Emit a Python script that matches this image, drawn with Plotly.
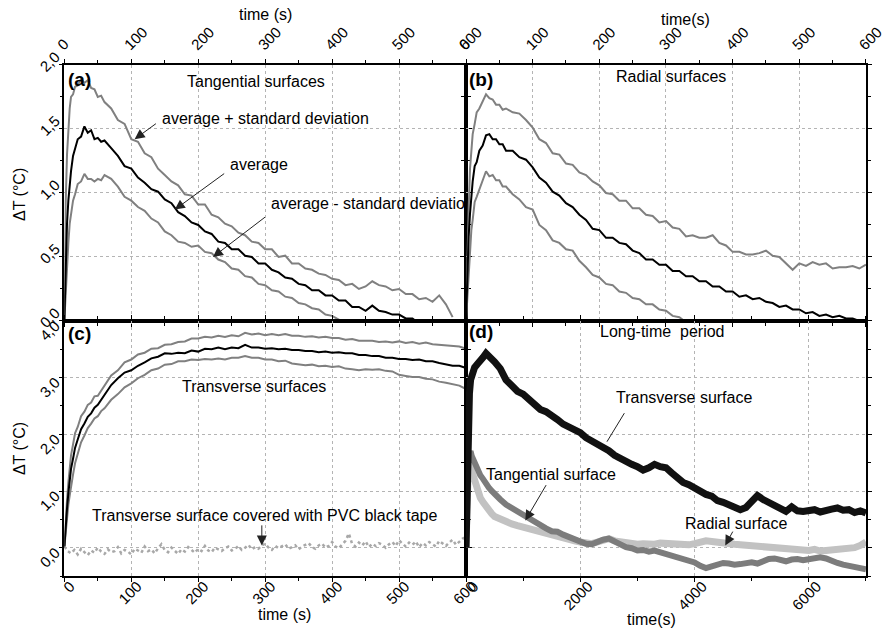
import plotly.graph_objects as go

# ---------------- data ----------------
T = [0, 2, 4, 6, 8, 10, 13, 16, 20, 25, 30, 35, 40, 45, 50, 55, 60,
     70, 80, 90, 100, 110, 120, 130, 140, 150, 160, 170, 180, 190, 200,
     210, 220, 230, 240, 250, 260, 270, 280, 290, 300, 310, 320, 330, 340,
     350, 360, 370, 380, 390, 400, 410, 420, 430, 440, 450, 460, 470, 480,
     490, 500, 510, 520, 530, 540, 550, 560, 570, 580, 590, 600]

# (a) tangential surfaces
a_up = [0.00, 0.92, 1.30, 1.55, 1.66, 1.75, 1.77, 1.83, 1.84, 1.89, 1.86, 1.88, 1.82, 1.81, 1.75, 1.76, 1.71,
        1.66, 1.57, 1.54, 1.42, 1.40, 1.31, 1.28, 1.19, 1.14, 1.09,
        1.06, 0.99, 0.98, 0.91, 0.91, 0.83, 0.81, 0.76, 0.74, 0.69,
        0.67, 0.62, 0.61, 0.56, 0.56, 0.50, 0.51, 0.45, 0.45, 0.41,
        0.40, 0.37, 0.36, 0.33, 0.32, 0.28, 0.29, 0.25, 0.27, 0.31,
        0.28, 0.27, 0.24, 0.25, 0.21, 0.21, 0.17, 0.18, 0.15, 0.20,
        0.13, 0.03]
a_avg = [0.00, 0.45, 0.76, 0.94, 1.08, 1.17, 1.29, 1.35, 1.42, 1.44, 1.52, 1.47, 1.49, 1.42, 1.43, 1.40, 1.41,
         1.35, 1.29, 1.21, 1.19, 1.12, 1.08, 1.03, 1.01, 0.95, 0.92,
         0.85, 0.82, 0.77, 0.75, 0.70, 0.68, 0.62, 0.61, 0.56, 0.56,
         0.51, 0.50, 0.45, 0.45, 0.40, 0.38, 0.34, 0.33, 0.29, 0.28,
         0.24, 0.24, 0.20, 0.20, 0.16, 0.16, 0.11, 0.11, 0.08, 0.12,
         0.08, 0.07, 0.05, 0.05, 0.02, 0.02, -0.02]
a_lo = [0.00, 0.25, 0.46, 0.61, 0.76, 0.83, 0.94, 0.99, 1.07, 1.09, 1.15, 1.11, 1.11, 1.09, 1.11, 1.10, 1.14,
        1.11, 1.05, 0.97, 0.94, 0.89, 0.86, 0.80, 0.77, 0.70, 0.67,
        0.62, 0.61, 0.58, 0.59, 0.54, 0.53, 0.48, 0.46, 0.41, 0.40,
        0.35, 0.34, 0.29, 0.28, 0.24, 0.23, 0.19, 0.18, 0.14, 0.13,
        0.10, 0.09, 0.05, 0.04, 0.01, -0.02]

# (b) radial surfaces
b_up = [0.00, 0.52, 0.88, 1.19, 1.34, 1.46, 1.54, 1.63, 1.66, 1.72, 1.77, 1.74, 1.73, 1.69, 1.69, 1.65, 1.66,
        1.63, 1.62, 1.57, 1.51, 1.42, 1.39, 1.31, 1.30, 1.23, 1.22,
        1.16, 1.14, 1.09, 1.06, 1.00, 0.99, 0.94, 0.94, 0.88, 0.88,
        0.83, 0.82, 0.77, 0.78, 0.73, 0.72, 0.66, 0.67, 0.65, 0.65,
        0.67, 0.61, 0.59, 0.54, 0.54, 0.52, 0.52, 0.53, 0.55, 0.51,
        0.50, 0.45, 0.40, 0.45, 0.43, 0.46, 0.44, 0.45, 0.41, 0.42,
        0.42, 0.43, 0.41, 0.44]
b_avg = [0.00, 0.40, 0.66, 0.84, 1.01, 1.09, 1.21, 1.24, 1.33, 1.37, 1.45, 1.46, 1.42, 1.42, 1.38, 1.38, 1.33,
         1.33, 1.28, 1.26, 1.20, 1.12, 1.08, 1.01, 0.98, 0.92, 0.89,
         0.83, 0.79, 0.72, 0.71, 0.65, 0.65, 0.61, 0.60, 0.55, 0.53,
         0.48, 0.48, 0.44, 0.44, 0.39, 0.39, 0.35, 0.35, 0.31, 0.31,
         0.27, 0.27, 0.23, 0.23, 0.19, 0.20, 0.17, 0.18, 0.15, 0.14,
         0.11, 0.12, 0.09, 0.09, 0.06, 0.07, 0.04, 0.05, 0.03, 0.04,
         0.02, 0.02, 0.00, 0.01]
b_lo = [0.00, 0.20, 0.41, 0.54, 0.71, 0.79, 0.93, 0.97, 1.03, 1.09, 1.17, 1.13, 1.14, 1.10, 1.10, 1.05, 1.05,
        0.99, 0.95, 0.89, 0.87, 0.75, 0.71, 0.63, 0.61, 0.56, 0.55,
        0.47, 0.42, 0.36, 0.34, 0.29, 0.28, 0.23, 0.22, 0.18, 0.17,
        0.13, 0.13, 0.09, 0.08, 0.04, 0.03, -0.01, -0.03]

# (c) transverse surfaces
c_up = [0.00, 0.52, 0.84, 1.15, 1.38, 1.63, 1.82, 2.02, 2.13, 2.32, 2.40, 2.52, 2.56, 2.67, 2.68, 2.77, 2.84,
        3.04, 3.13, 3.27, 3.32, 3.41, 3.44, 3.51, 3.52, 3.58, 3.59,
        3.63, 3.64, 3.69, 3.69, 3.72, 3.71, 3.74, 3.72, 3.75, 3.73,
        3.79, 3.76, 3.78, 3.75, 3.77, 3.75, 3.77, 3.74, 3.74, 3.72,
        3.73, 3.71, 3.72, 3.70, 3.70, 3.67, 3.68, 3.65, 3.65, 3.65,
        3.63, 3.64, 3.62, 3.64, 3.61, 3.63, 3.60, 3.62, 3.59, 3.58,
        3.57, 3.55, 3.55, 3.51]
c_avg = [0.00, 0.42, 0.69, 0.96, 1.17, 1.39, 1.57, 1.76, 1.91, 2.09, 2.19, 2.31, 2.37, 2.47, 2.52, 2.61, 2.69,
         2.87, 2.99, 3.09, 3.13, 3.21, 3.27, 3.34, 3.37, 3.43, 3.42,
         3.44, 3.43, 3.48, 3.46, 3.51, 3.50, 3.53, 3.50, 3.53, 3.52,
         3.58, 3.53, 3.53, 3.51, 3.52, 3.50, 3.51, 3.49, 3.49, 3.47,
         3.47, 3.45, 3.46, 3.44, 3.45, 3.43, 3.43, 3.40, 3.40, 3.38,
         3.38, 3.35, 3.35, 3.33, 3.33, 3.31, 3.32, 3.29, 3.29, 3.26,
         3.24, 3.21, 3.21, 3.17]
c_lo = [0.00, 0.31, 0.54, 0.76, 0.92, 1.09, 1.29, 1.49, 1.64, 1.86, 1.98, 2.11, 2.19, 2.28, 2.32, 2.41, 2.46,
        2.61, 2.71, 2.83, 2.90, 2.99, 3.05, 3.13, 3.16, 3.23, 3.24,
        3.29, 3.29, 3.32, 3.31, 3.33, 3.32, 3.34, 3.32, 3.35, 3.35,
        3.38, 3.35, 3.35, 3.32, 3.32, 3.29, 3.30, 3.25, 3.23, 3.22,
        3.23, 3.20, 3.21, 3.19, 3.20, 3.16, 3.15, 3.13, 3.15, 3.14,
        3.15, 3.12, 3.11, 3.05, 3.03, 3.01, 3.01, 2.98, 2.97, 2.93,
        2.91, 2.88, 2.86, 2.80]

# (c) transverse surface covered with PVC black tape (every 5 s)
T_pvc = list(range(0, 605, 5))
pvc = [0.02, -0.06, -0.10, -0.04, -0.12, -0.02, -0.08, -0.13, -0.05, -0.09, 0.00, -0.07,
       -0.11, -0.03, -0.08, -0.06, 0.01, -0.10, -0.04, -0.07, -0.12, -0.02, -0.05, -0.09,
       0.02, -0.06, -0.03, -0.10, -0.01, 0.06, -0.04, -0.08, 0.00, -0.05, -0.11, -0.03,
       -0.07, 0.01, -0.04, -0.09, -0.02, -0.06, 0.03, -0.05, -0.08, 0.00, -0.03, -0.06,
       -0.01, 0.02, -0.05, -0.02, 0.03, -0.04, 0.00, 0.05, -0.03, 0.01, -0.02, 0.04,
       0.07, 0.00, -0.04, 0.03, -0.01, 0.02, 0.06, -0.02, 0.01, 0.04, -0.03, 0.02,
       0.05, 0.08, 0.01, -0.02, 0.04, 0.07, 0.00, 0.03, 0.10, 0.02, -0.01, 0.05,
       0.12, 0.25, 0.06, 0.02, 0.09, 0.04, 0.11, 0.01, 0.07, 0.03, 0.08, 0.05,
       0.00, 0.06, 0.10, 0.03, 0.13, 0.07, 0.02, 0.09, 0.05, 0.11, 0.01, 0.08,
       0.04, 0.10, 0.06, 0.02, 0.12, 0.07, 0.03, 0.09, 0.14, 0.05, 0.10, 0.16,
       0.19]

# (d) long-time period
Td = [0, 20, 40, 60, 80, 100, 150, 200, 250, 300, 350, 400, 450, 500] + list(range(600, 7100, 100))
d_tr = [0.00, 1.60, 2.30, 2.72, 2.96, 3.04, 3.18, 3.24, 3.33, 3.36, 3.43, 3.38, 3.36, 3.28,
        3.16, 2.96, 2.86, 2.76, 2.71, 2.63, 2.54, 2.44, 2.40, 2.31,
        2.26, 2.18, 2.13, 2.05, 2.03, 1.94, 1.89, 1.83, 1.79, 1.71,
        1.63, 1.57, 1.53, 1.47, 1.43, 1.37, 1.41, 1.47, 1.43, 1.41,
        1.32, 1.23, 1.15, 1.11, 1.05, 1.01, 0.94, 0.91, 0.83, 0.80,
        0.75, 0.73, 0.67, 0.71, 0.80, 0.92, 0.85, 0.79, 0.73, 0.67,
        0.64, 0.72, 0.65, 0.64, 0.66, 0.67, 0.63, 0.67, 0.68, 0.70,
        0.66, 0.67, 0.62, 0.65, 0.61]
d_tg = [0.00, 1.25, 1.55, 1.66, 1.70, 1.62, 1.50, 1.40, 1.28, 1.21, 1.12, 1.06, 1.00, 0.96,
        0.85, 0.76, 0.70, 0.63, 0.55, 0.49, 0.43, 0.37, 0.34, 0.29,
        0.28, 0.23, 0.19, 0.13, 0.11, 0.07, 0.06, 0.11, 0.14, 0.16,
        0.10, 0.06, 0.01, -0.01, -0.05, -0.04, -0.07, -0.05, -0.08, -0.10,
        -0.12, -0.15, -0.18, -0.22, -0.26, -0.32, -0.36, -0.33, -0.30, -0.27,
        -0.28, -0.30, -0.29, -0.27, -0.26, -0.28, -0.24, -0.20, -0.19, -0.22,
        -0.24, -0.21, -0.20, -0.22, -0.21, -0.19, -0.17, -0.19, -0.24, -0.27,
        -0.30, -0.32, -0.34, -0.36, -0.38]
d_rd = [0.00, 1.30, 1.45, 1.48, 1.42, 1.30, 1.12, 0.98, 0.88, 0.80, 0.72, 0.66, 0.60, 0.55,
        0.50, 0.44, 0.42, 0.39, 0.36, 0.33, 0.30, 0.27, 0.24, 0.21,
        0.18, 0.16, 0.14, 0.12, 0.10, 0.08, 0.07, 0.10, 0.14, 0.16,
        0.12, 0.10, 0.08, 0.07, 0.06, 0.07, 0.05, 0.06, 0.08, 0.07,
        0.06, 0.08, 0.06, 0.05, 0.07, 0.10, 0.12, 0.11, 0.09, 0.10,
        0.08, 0.06, 0.05, 0.04, 0.03, 0.05, 0.04, 0.02, 0.01, 0.00,
        -0.01, -0.02, -0.03, -0.04, -0.05, -0.03, -0.06, -0.05, -0.04, -0.06,
        -0.03, -0.02, 0.00, 0.04, 0.10]

# ---------------- style ----------------
FONT = "Liberation Sans, Arial, Helvetica, sans-serif"
GREY = "#808080"
BLACK = "#000000"
LIGHT = "#a8a8a8"

fig = go.Figure()


def line(x, y, xa, ya, color, width, name, dash="solid"):
    fig.add_trace(go.Scatter(x=x[:len(y)], y=y, mode="lines", name=name,
                             line=dict(color=color, width=width, dash=dash),
                             xaxis=xa, yaxis=ya, showlegend=False))


line(T, a_up, "x", "y", GREY, 2, "average + sd")
line(T, a_lo, "x", "y", GREY, 2, "average - sd")
line(T, a_avg, "x", "y", BLACK, 2, "average")
line(T, b_up, "x2", "y2", GREY, 2, "average + sd")
line(T, b_lo, "x2", "y2", GREY, 2, "average - sd")
line(T, b_avg, "x2", "y2", BLACK, 2, "average")
line(T, c_up, "x3", "y3", GREY, 2, "average + sd")
line(T, c_lo, "x3", "y3", GREY, 2, "average - sd")
line(T, c_avg, "x3", "y3", BLACK, 2, "average")
line(T_pvc, pvc, "x3", "y3", LIGHT, 2.5, "PVC tape", dash="dot")
line(Td, d_rd, "x4", "y4", "#c2c2c2", 7, "Radial surface")
line(Td, d_tg, "x4", "y4", "#7c7c7c", 6, "Tangential surface")
line(Td, d_tr, "x4", "y4", "#111111", 7, "Transverse surface")


def axstyle(**kw):
    d = dict(showline=True, linecolor="black", linewidth=1.5, mirror="ticks",
             ticks="outside", ticklen=4, tickwidth=1, tickcolor="black",
             showgrid=True, gridcolor="#b4b4b4", griddash="dot", gridwidth=1,
             zeroline=False, automargin=False, tickangle=-45,
             tickfont=dict(size=15, color="black", family=FONT))
    d.update(kw)
    return d


XA = [0.0718, 0.5201]
XB = [0.5201, 0.9665]
YT = [0.4921, 0.8972]
YB = [0.0886, 0.4921]

mx = dict(ticks="outside", ticklen=3, tickcolor="black", dtick=50, tick0=0, showgrid=False)

fig.update_layout(
    width=896, height=632, margin=dict(l=0, r=0, t=0, b=0),
    paper_bgcolor="white", plot_bgcolor="white", separators=", ",
    font=dict(family=FONT, size=16, color="black"),
    xaxis=axstyle(domain=XA, range=[0, 600], dtick=100, side="top", anchor="y", minor=mx,
                  ticklabelshift=-6),
    yaxis=axstyle(domain=YT, range=[0, 2.0], dtick=0.5, tickformat=".1f", anchor="x",
                  ticklabelshift=-10,
                  minor=dict(ticks="outside", ticklen=3, tickcolor="black", dtick=0.25, showgrid=False)),
    xaxis2=axstyle(domain=XB, range=[0, 600], dtick=100, side="top", anchor="y2", minor=mx,
                   ticklabelshift=-6),
    yaxis2=axstyle(domain=YT, range=[0, 2.0], dtick=0.5, anchor="x2", showticklabels=False,
                   minor=dict(ticks="outside", ticklen=3, tickcolor="black", dtick=0.25, showgrid=False)),
    xaxis3=axstyle(domain=XA, range=[0, 600], dtick=100, side="bottom", anchor="y3", minor=mx,
                   ticklabelstandoff=-10, ticklabelshift=6),
    yaxis3=axstyle(domain=YB, range=[-0.5, 4.0], dtick=1, tick0=0, tickformat=".1f", anchor="x3",
                   ticklabelshift=3,
                   minor=dict(ticks="outside", ticklen=3, tickcolor="black", dtick=0.5, tick0=0, showgrid=False)),
    xaxis4=axstyle(domain=XB, range=[0, 7000], dtick=2000, side="bottom", anchor="y4",
                   ticklabelstandoff=-10, ticklabelshift=8,
                   minor=dict(ticks="outside", ticklen=3, tickcolor="black", dtick=1000, showgrid=False)),
    yaxis4=axstyle(domain=YB, range=[-0.5, 4.0], dtick=1, tick0=0, anchor="x4", showticklabels=False,
                   minor=dict(ticks="outside", ticklen=3, tickcolor="black", dtick=0.5, tick0=0, showgrid=False)),
)

ann = []


def text(x, y, s, xref, yref, size=16, xanchor="center", bold=False, angle=0):
    ann.append(dict(x=x, y=y, xref=xref, yref=yref, text=("<b>%s</b>" % s) if bold else s,
                    showarrow=False, xanchor=xanchor, yanchor="middle", textangle=angle,
                    font=dict(size=size, family=FONT, color="black")))


def arrow(x, y, ax, ay, xref, yref, head=2):
    ann.append(dict(x=x, y=y, ax=ax, ay=ay, xref=xref, yref=yref, axref=xref, ayref=yref,
                    text="", showarrow=True, arrowhead=head, arrowsize=2, arrowwidth=1,
                    arrowcolor="#222222", standoff=0))


# axis titles
text(0.2958, 0.9778, "time (s)", "paper", "paper")
text(0.7656, 0.9684, "time(s)", "paper", "paper")
text(0.3170, 0.0269, "time (s)", "paper", "paper")
text(0.7266, 0.0190, "time(s)", "paper", "paper")
text(0.0212, 0.6930, "ΔT (°C)", "paper", "paper", angle=-90)
text(0.0212, 0.2910, "ΔT (°C)", "paper", "paper", angle=-90)

# panel (a)
text(2, 1.89, "(a)", "x", "y", size=19, xanchor="left", bold=True)
text(287, 1.87, "Tangential surfaces", "x", "y")
text(143, 1.58, "average + standard deviation", "x", "y", xanchor="left")
arrow(105, 1.42, 139, 1.55, "x", "y")
text(244, 1.22, "average", "x", "y", xanchor="left")
arrow(165, 0.87, 241, 1.16, "x", "y")
text(305, 0.92, "average - standard deviatio", "x", "y", xanchor="left")
arrow(222, 0.50, 302, 0.82, "x", "y")

# panel (b)
text(1, 1.89, "(b)", "x2", "y2", size=19, xanchor="left", bold=True)
text(308, 1.91, "Radial surfaces", "x2", "y2")

# panel (c)
text(2, 3.78, "(c)", "x3", "y3", size=19, xanchor="left", bold=True)
text(284, 2.85, "Transverse surfaces", "x3", "y3")
text(299, 0.57, "Transverse surface covered with PVC black tape", "x3", "y3")
arrow(295, 0.04, 295, 0.42, "x3", "y3")

# panel (d)
text(15, 3.82, "(d)", "x4", "y4", size=19, xanchor="left", bold=True)
text(3435, 3.82, "Long-time\u00a0 period", "x4", "y4")
text(3812, 2.65, "Transverse surface", "x4", "y4")
arrow(2467, 1.87, 2787, 2.40, "x4", "y4", head=0)
text(1492, 1.29, "Tangential surface", "x4", "y4")
arrow(1038, 0.48, 1417, 1.13, "x4", "y4")
text(4729, 0.425, "Radial surface", "x4", "y4")
arrow(4537, 0.04, 4683, 0.31, "x4", "y4")

fig.update_layout(annotations=ann)
fig.write_html("out.html", config={"displayModeBar": False},
               post_script="document.body.style.margin='0';")
